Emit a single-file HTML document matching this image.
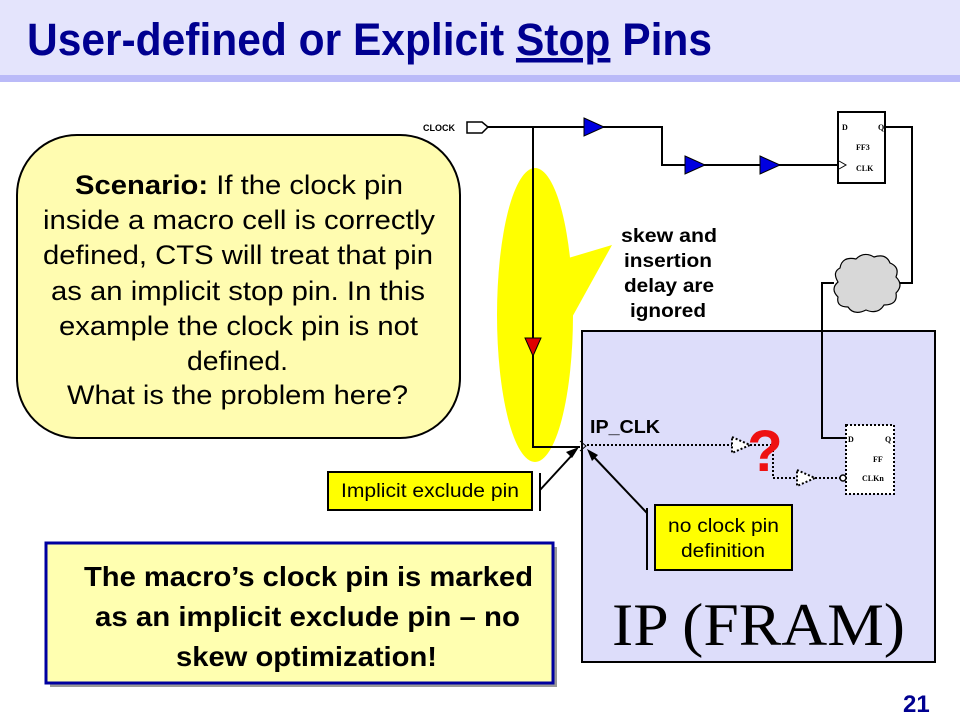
<!DOCTYPE html>
<html><head><style>
body{margin:0;width:960px;height:720px;overflow:hidden;background:#fff;}
svg{display:block;font-family:"Liberation Sans",sans-serif;}
</style></head><body>
<svg width="960" height="720" viewBox="0 0 960 720">
<rect x="0" y="0" width="960" height="75" fill="#e4e4fc"/>
<rect x="0" y="75" width="960" height="7" fill="#babaf8"/>
<text x="27" y="55" font-size="45" font-weight="bold" fill="#000090" textLength="685" lengthAdjust="spacingAndGlyphs">User-defined or Explicit <tspan text-decoration="underline">Stop</tspan> Pins</text>

<!-- yellow highlight -->
<ellipse cx="535" cy="315" rx="38" ry="147" fill="#ffff00"/>
<polygon points="555,262 612,245 565,330" fill="#ffff00"/>

<!-- callout -->
<rect x="17" y="135" width="443" height="303" rx="60" fill="#fffcb0" stroke="#000" stroke-width="2"/>
<g font-size="27" fill="#000">
<text x="75" y="194" textLength="328" lengthAdjust="spacingAndGlyphs"><tspan font-weight="bold">Scenario:</tspan> If the clock pin</text>
<text x="43" y="229" textLength="392" lengthAdjust="spacingAndGlyphs">inside a macro cell is correctly</text>
<text x="43" y="264" textLength="390" lengthAdjust="spacingAndGlyphs">defined, CTS will treat that pin</text>
<text x="51" y="300" textLength="374" lengthAdjust="spacingAndGlyphs">as an implicit stop pin. In this</text>
<text x="59" y="335" textLength="359" lengthAdjust="spacingAndGlyphs">example the clock pin is not</text>
<text x="187" y="370" textLength="101" lengthAdjust="spacingAndGlyphs">defined.</text>
<text x="67" y="404" textLength="341" lengthAdjust="spacingAndGlyphs">What is the problem here?</text>
</g>

<!-- IP box -->
<rect x="582" y="331" width="353" height="331" fill="#ddddfa" stroke="#000" stroke-width="2"/>
<text x="612" y="645" font-family="Liberation Serif,serif" font-size="60" textLength="293" lengthAdjust="spacingAndGlyphs">IP (FRAM)</text>

<!-- wires -->
<g stroke="#000" stroke-width="2" fill="none">
<polyline points="488,127 662,127 662,165 840,165"/>
<polyline points="533,127 533,447 580,447"/>
<polyline points="885,127 912,127 912,283 898,283"/>
<polyline points="834,283 822,283 822,438 845,438"/>
</g>
<text x="423" y="131" font-size="9" font-weight="bold">CLOCK</text>
<polygon points="467,122 482,122 488,127 482,133 467,133" fill="#fff" stroke="#000" stroke-width="1.5"/>
<g fill="#0000e0" stroke="#000" stroke-width="1">
<polygon points="584,118 604,127 584,136"/>
<polygon points="685,156 705,165 685,174"/>
<polygon points="760,156 780,165 760,174"/>
</g>
<polygon points="525,338 541,338 533,356" fill="#e00000" stroke="#000" stroke-width="1"/>

<!-- FF3 -->
<rect x="838" y="112" width="47" height="71" fill="#fff" stroke="#000" stroke-width="2"/>
<g font-family="Liberation Serif,serif" font-size="8" font-weight="bold">
<text x="842" y="130">D</text><text x="878" y="130">Q</text>
<text x="856" y="150">FF3</text><text x="856" y="171">CLK</text>
</g>
<polyline points="839,161 846,165 839,169" fill="none" stroke="#000" stroke-width="1"/>

<!-- cloud -->
<path d="M840,268 q2,-12 16,-9 q8,-8 18,-2 q12,-4 16,6 q10,4 6,14 q8,8 0,16 q2,12 -12,12 q-6,10 -18,5 q-12,6 -18,-3 q-12,0 -10,-10 q-8,-8 0,-15 q-6,-10 2,-14z" fill="#d8d8d8" stroke="#000" stroke-width="1.2"/>

<!-- skew text -->
<g font-size="19" font-weight="bold">
<text x="621" y="242" textLength="96" lengthAdjust="spacingAndGlyphs">skew and</text>
<text x="624" y="267" textLength="88" lengthAdjust="spacingAndGlyphs">insertion</text>
<text x="624" y="292" textLength="90" lengthAdjust="spacingAndGlyphs">delay are</text>
<text x="630" y="317" textLength="76" lengthAdjust="spacingAndGlyphs">ignored</text>
</g>

<!-- IP internals -->
<text x="590" y="433" font-size="18" font-weight="bold" textLength="70" lengthAdjust="spacingAndGlyphs">IP_CLK</text>
<polyline points="580,441 586,446 580,451" fill="none" stroke="#000" stroke-width="1"/>
<g stroke="#000" stroke-width="2" stroke-dasharray="2,2" fill="none">
<line x1="587" y1="445" x2="732" y2="445"/>
<polygon points="732,437 750,445 732,453" fill="#fff"/>
<polyline points="750,445 773,445 773,478 797,478"/>
<polygon points="797,470 815,478 797,486" fill="#fff"/>
<line x1="815" y1="478" x2="843" y2="478"/>
<rect x="846" y="425" width="48" height="69" fill="#fff"/>
</g>
<circle cx="843" cy="478" r="3" fill="#fff" stroke="#000" stroke-width="1.5"/>
<text x="765" y="471" font-size="58" font-weight="bold" fill="#ee1111" text-anchor="middle">?</text>
<g font-family="Liberation Serif,serif" font-size="8" font-weight="bold">
<text x="848" y="442">D</text><text x="885" y="442">Q</text>
<text x="873" y="462">FF</text><text x="862" y="481">CLKn</text>
</g>

<!-- labels -->
<rect x="328" y="472" width="204" height="38" fill="#ffff00" stroke="#000" stroke-width="2"/>
<text x="341" y="497" font-size="19" textLength="178" lengthAdjust="spacingAndGlyphs">Implicit exclude pin</text>
<line x1="540" y1="473" x2="540" y2="511" stroke="#000" stroke-width="2"/>
<line x1="540" y1="490" x2="574" y2="453" stroke="#000" stroke-width="2"/>
<polygon points="579,447 572,458 566,452" fill="#000"/>

<rect x="655" y="505" width="137" height="65" fill="#ffff00" stroke="#000" stroke-width="2"/>
<text x="668" y="532" font-size="19" textLength="111" lengthAdjust="spacingAndGlyphs">no clock pin</text>
<text x="681" y="557" font-size="19" textLength="84" lengthAdjust="spacingAndGlyphs">definition</text>
<line x1="647" y1="508" x2="647" y2="570" stroke="#000" stroke-width="2"/>
<line x1="647" y1="513" x2="592" y2="455" stroke="#000" stroke-width="2"/>
<polygon points="587,449 598,455 592,461" fill="#000"/>

<!-- bottom box -->
<rect x="50" y="547" width="507" height="140" fill="#999"/>
<rect x="46" y="543" width="507" height="140" fill="#ffffb0" stroke="#0000a0" stroke-width="3"/>
<g font-size="28" font-weight="bold">
<text x="84" y="586" textLength="449" lengthAdjust="spacingAndGlyphs">The macro’s clock pin is marked</text>
<text x="95" y="626" textLength="425" lengthAdjust="spacingAndGlyphs">as an implicit exclude pin – no</text>
<text x="176" y="666" textLength="261" lengthAdjust="spacingAndGlyphs">skew optimization!</text>
</g>

<text x="903" y="712" font-size="24" font-weight="bold" fill="#000090">21</text>
</svg>
</body></html>
